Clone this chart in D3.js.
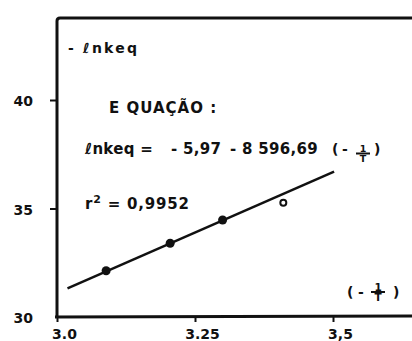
<!DOCTYPE html>
<html><head><meta charset="utf-8">
<script src="https://cdn.jsdelivr.net/npm/d3@7"></script>
<style>
html,body{margin:0;padding:0;background:#fff;}
svg{display:block;}
text{font-family:"DejaVu Sans",sans-serif;font-weight:bold;fill:#111;}
</style></head>
<body>
<svg id="c" width="412" height="341"></svg>
<script>
// data
const xTicks = [3.0, 3.25, 3.5];
const xTickLabels = ["3.0", "3.25", "3,5"];
const yTicks = [30, 35, 40];
const yTickLabels = ["30", "35", "40"];
const filledX = [3.089, 3.205, 3.300];
const filledY = [32.13, 33.40, 34.47];
const openX = [3.41];
const openY = [35.27];
const fitX = [3.019, 3.502];
const fitY = [31.32, 36.70];

const svg = d3.select("#c");
const x = d3.scaleLinear().domain([3.0, 3.5]).range([57, 333]);
const y = d3.scaleLinear().domain([30, 40]).range([317, 100]);
const xMax = x.invert(412), yMax = y.invert(18);
const ink = "#111";

// frame: left and top border
svg.append("path")
  .attr("d", `M${x(3.0)},${y(30)} L${x(3.0)},${y(yMax)+3} Q${x(3.0)},${y(yMax)} ${x(3.0)+3},${y(yMax)} L${x(xMax)},${y(yMax)}`)
  .attr("fill", "none").attr("stroke", ink).attr("stroke-width", 3);

// bottom axis
const gx = svg.append("g").attr("transform", `translate(0,${y(30)})`)
  .call(d3.axisBottom(x).tickValues(xTicks).tickSize(5).tickPadding(7)
    .tickFormat((d, i) => xTickLabels[i]));
gx.select(".domain").remove();
gx.selectAll(".tick line").attr("stroke", ink).attr("stroke-width", 2);
gx.selectAll(".tick text").attr("font-size", 14).attr("dx", 7).attr("dy", "0.72em")
  .style("font-family", "DejaVu Sans").style("font-weight", "bold").attr("fill", ink);
svg.append("line").attr("x1", x(3.0) - 2).attr("x2", x(xMax)).attr("y1", y(30)).attr("y2", y(30) - 1)
  .attr("stroke", ink).attr("stroke-width", 3);

// left axis ticks
const gy = svg.append("g").attr("transform", `translate(${x(3.0)},0)`)
  .call(d3.axisLeft(y).tickValues(yTicks).tickSize(7).tickPadding(17)
    .tickFormat((d, i) => yTickLabels[i]));
gy.select(".domain").remove();
gy.selectAll(".tick line").attr("stroke", ink).attr("stroke-width", 2);
gy.selectAll(".tick text").attr("font-size", 14).attr("dy", "0.4em")
  .style("font-family", "DejaVu Sans").style("font-weight", "bold").attr("fill", ink);
gy.selectAll(".tick").filter(d => d === 30).select("line").remove();

// fitted line
svg.append("line")
  .attr("x1", x(fitX[0])).attr("y1", y(fitY[0]))
  .attr("x2", x(fitX[1])).attr("y2", y(fitY[1]))
  .attr("stroke", ink).attr("stroke-width", 2.5);

// filled points
svg.selectAll("circle.f").data(filledX).enter().append("circle")
  .attr("class", "f").attr("cx", d => x(d)).attr("cy", (d, i) => y(filledY[i]))
  .attr("r", 4.5).attr("fill", ink);
// open point
svg.selectAll("circle.o").data(openX).enter().append("circle")
  .attr("class", "o").attr("cx", d => x(d)).attr("cy", (d, i) => y(openY[i]))
  .attr("r", 3).attr("fill", "#fff").attr("stroke", ink).attr("stroke-width", 2);

// "(- 1/T)" as one text element with the fraction built from tspans
function fracText(parts, cx, barY, s, baseY) {
  const t = svg.append("text").attr("y", baseY).attr("font-size", 14).attr("xml:space", "preserve");
  parts.before.forEach(p => t.append("tspan").attr("x", p[1]).attr("y", baseY).text(p[0]));
  const w1 = s * 0.66, wT = s * 0.68;
  t.append("tspan").attr("x", cx - w1 / 2).attr("y", barY - 1.5).attr("font-size", s).text("1");
  t.append("tspan").attr("x", cx - wT / 2).attr("y", barY + s * 0.86).attr("font-size", s).text("T");
  t.append("tspan").attr("x", parts.after[1]).attr("y", baseY).text(parts.after[0]);
  svg.append("line").attr("x1", cx - 7).attr("x2", cx + 7).attr("y1", barY).attr("y2", barY)
    .attr("stroke", ink).attr("stroke-width", 2);
}

// texts
svg.append("text").attr("x", 68).attr("y", 53).attr("font-size", 14).attr("letter-spacing", 2.2)
  .text("- ℓnkeq");
svg.append("text").attr("x", 109).attr("y", 113).attr("font-size", 15).attr("letter-spacing", 1)
  .text("E QUAÇÃO :");
svg.append("text").attr("x", 85).attr("y", 154).attr("font-size", 15).attr("letter-spacing", 0.3)
  .text("ℓnkeq =");
svg.append("text").attr("x", 171).attr("y", 154).attr("font-size", 15).attr("letter-spacing", 0.3)
  .attr("xml:space", "preserve").text("- 5,97");
svg.append("text").attr("x", 230).attr("y", 154).attr("font-size", 15).attr("letter-spacing", 0.3)
  .attr("xml:space", "preserve").text("- 8 596,69");
fracText({before: [["(", 332], ["-", 342]], after: [")", 374]}, 363, 153.5, 9.5, 154);
svg.append("text").attr("x", 85).attr("y", 209).attr("font-size", 15).attr("letter-spacing", 0.8)
  .html('r<tspan dy="-6" font-size="11">2</tspan><tspan dy="6"> = 0,9952</tspan>');
fracText({before: [["(", 347], ["-", 358]], after: [")", 393]}, 378, 292, 10.5, 297);
</script>
</body></html>
